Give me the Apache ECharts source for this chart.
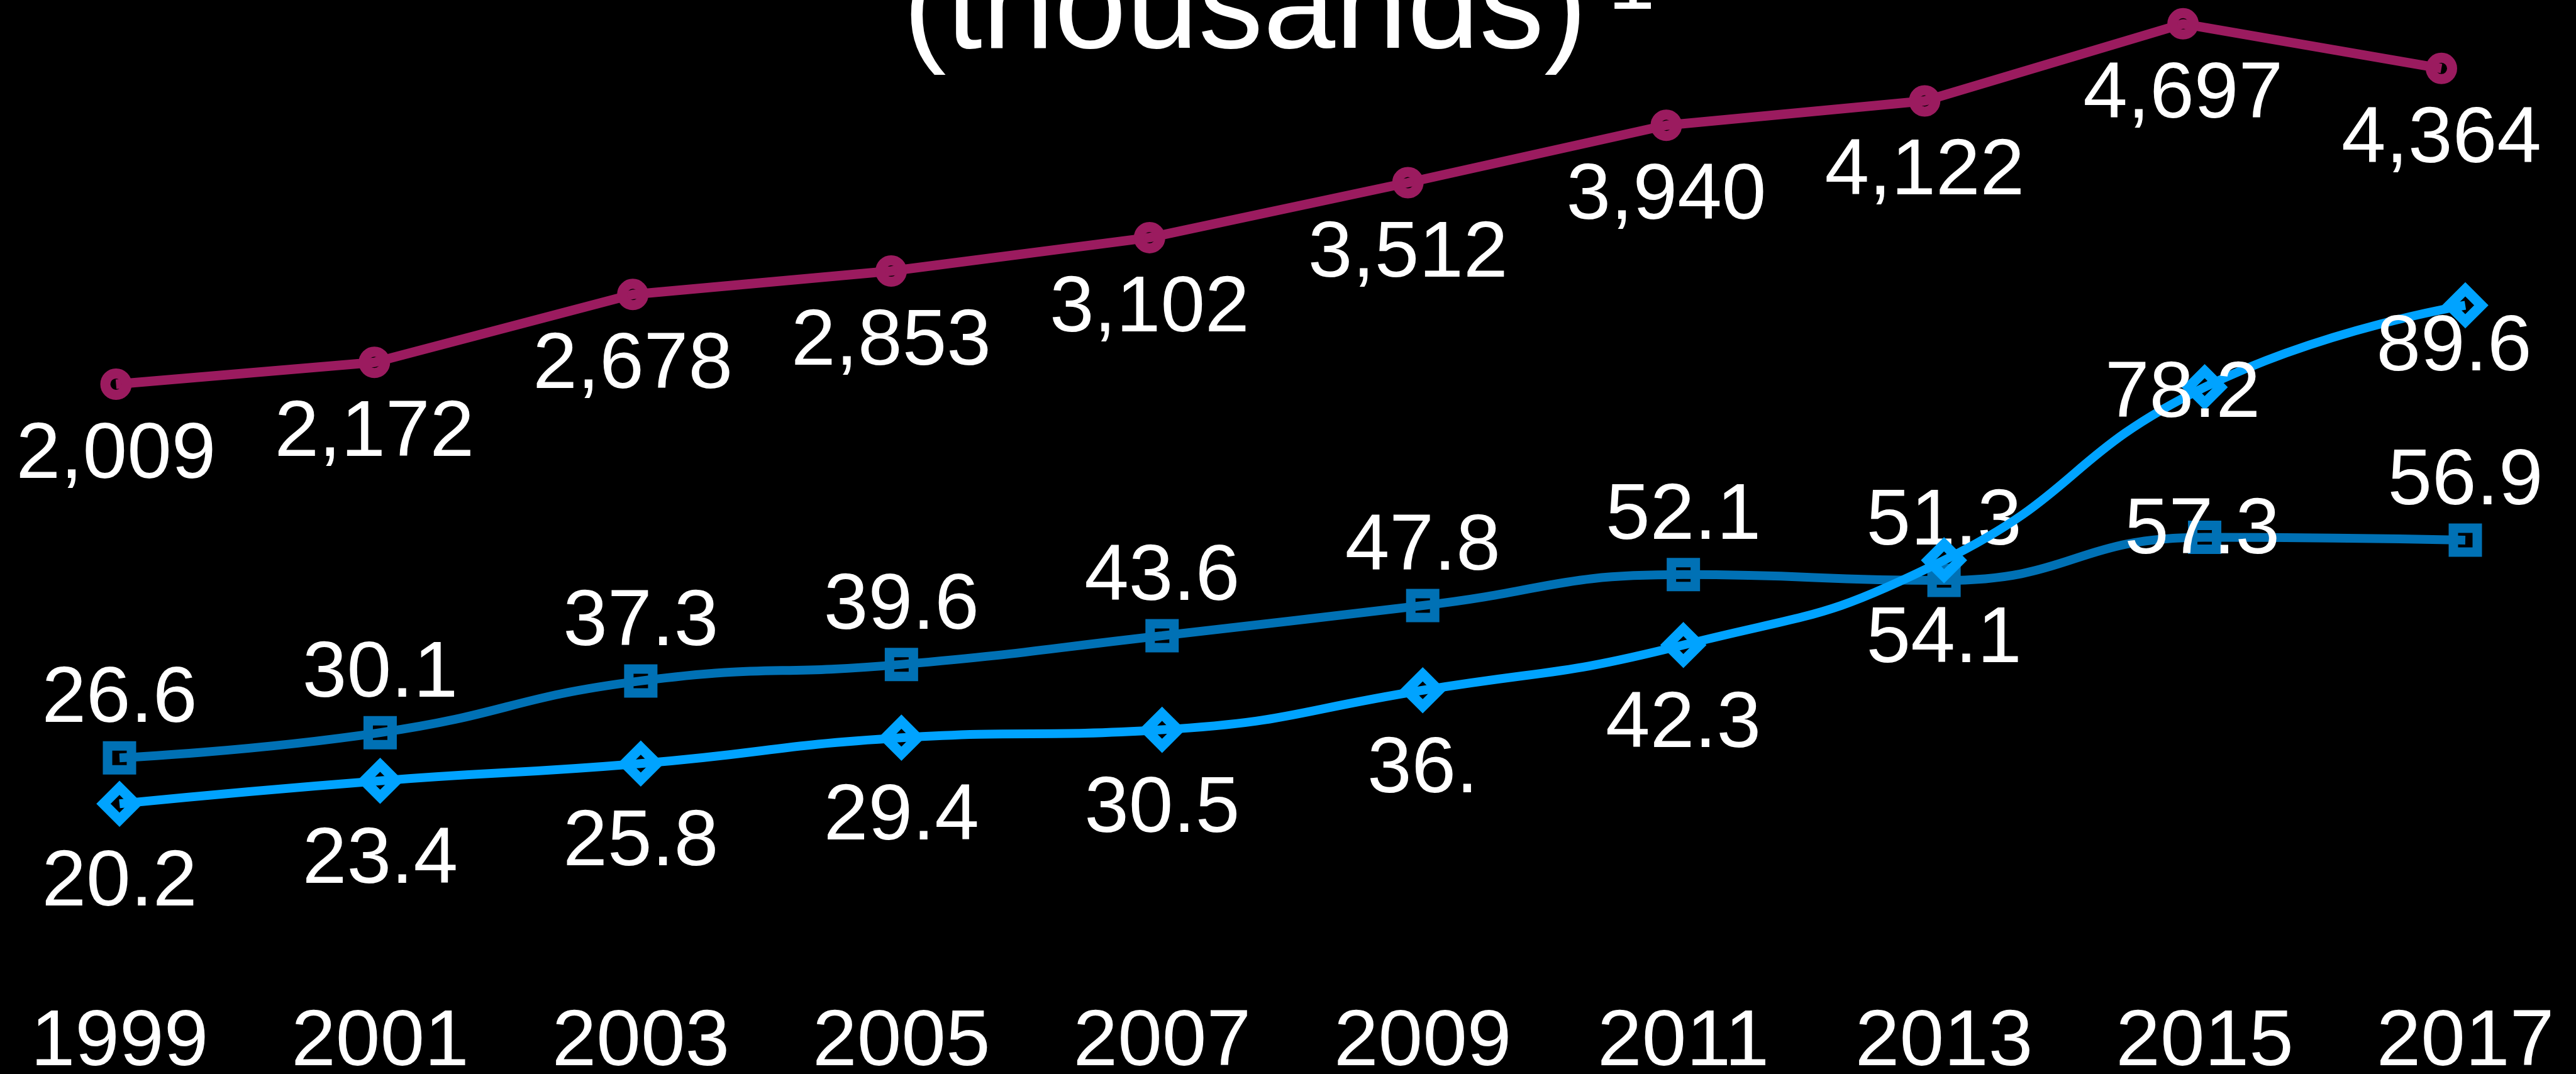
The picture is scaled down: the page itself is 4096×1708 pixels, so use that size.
<!DOCTYPE html>
<html>
<head>
<meta charset="utf-8">
<script src="https://cdn.jsdelivr.net/npm/echarts@6/dist/echarts.min.js"></script>
<style>
html,body{margin:0;padding:0;background:#000;}
#c{width:4096px;height:1708px;}
</style>
</head>
<body>
<div id="c"></div>
<script>
// ---- data ----
const years = ['1999','2001','2003','2005','2007','2009','2011','2013','2015','2017'];
const totalValues = [2009, 2172, 2678, 2853, 3102, 3512, 3940, 4122, 4697, 4364];
const squareValues = [26.6, 30.1, 37.3, 39.6, 43.6, 47.8, 52.1, 51.3, 57.3, 56.9];
const diamondValues = [20.2, 23.4, 25.8, 29.4, 30.5, 36.0, 42.3, 54.1, 78.2, 89.6];
const totalLabels = ['2,009','2,172','2,678','2,853','3,102','3,512','3,940','4,122','4,697','4,364'];
const squareLabels = ['26.6','30.1','37.3','39.6','43.6','47.8','52.1','51.3','57.3','56.9'];
const diamondLabels = ['20.2','23.4','25.8','29.4','30.5','36.','42.3','54.1','78.2','89.6'];
const titleMain = '(thousands)';
const titleSup = '1';

// ---- styles ----
const FONT = '"Liberation Sans", Arial, sans-serif';
const PURPLE = '#9B1B5F';
const DARKBLUE = '#0071B5';
const LIGHTBLUE = '#00A3FF';
const LABEL_SIZE = 127;

const totalOffset = [0, 114];
const squareOffset = [0, -92];
const diamondOffset = [0, 127];
const squareOverrides = {8: [-4, -9]};
const diamondOverrides = {8: [-35, 12], 9: [-18, 68]};

function items(values, labels, base, overrides) {
  return values.map((v, i) => ({
    value: v,
    label: { formatter: labels[i], offset: overrides[i] || base }
  }));
}

function labelStyle(){
  return {
    show: true, position: 'inside', color: '#fff', fontSize: LABEL_SIZE,
    fontFamily: FONT, lineHeight: LABEL_SIZE, align: 'center', verticalAlign: 'middle'
  };
}

const chart = echarts.init(document.getElementById('c'), null, {renderer: 'canvas'});
chart.setOption({
  backgroundColor: '#000',
  animation: false,
  title: [
    { text: titleMain, left: 1436, top: -84, padding: 0,
      textStyle: { color: '#fff', fontSize: 206, lineHeight: 206, fontWeight: 'normal', fontFamily: FONT } },
    { text: titleSup, left: 2557, top: -90, padding: 0,
      textStyle: { color: '#fff', fontSize: 134, lineHeight: 134, fontWeight: 'normal', fontFamily: FONT } }
  ],
  grid: [
    { left: 190, right: 176, top: 24, bottom: 199, containLabel: false, outerBoundsMode: 'none' },
    { left: 184.5, right: 214, top: 24, bottom: 199, containLabel: false, outerBoundsMode: 'none' }
  ],
  xAxis: [
    { type: 'category', gridIndex: 0, data: years, boundaryGap: false,
      axisLine: {show: false}, axisTick: {show: false}, splitLine: {show: false},
      axisLabel: { color: '#fff', fontSize: LABEL_SIZE, lineHeight: LABEL_SIZE, fontFamily: FONT, margin: 86, interval: 0 } },
    { type: 'category', gridIndex: 1, data: years, boundaryGap: false, show: false }
  ],
  yAxis: [
    { type: 'value', gridIndex: 0, min: 0, max: 130, show: false, splitLine: {show: false} },
    { type: 'value', gridIndex: 1, min: -2203, max: 4762, show: false, splitLine: {show: false} }
  ],
  series: [
    { name: 'Total', type: 'line', xAxisIndex: 1, yAxisIndex: 1,
      data: items(totalValues, totalLabels, totalOffset, {}),
      symbol: 'circle', symbolSize: 34, showAllSymbol: true, clip: false,
      itemStyle: { color: 'rgba(0,0,0,0)', borderColor: PURPLE, borderWidth: 16 },
      lineStyle: { color: PURPLE, width: 15 },
      label: labelStyle(), emphasis: {disabled: true}, z: 2 },
    { name: 'Square series', type: 'line', xAxisIndex: 0, yAxisIndex: 0,
      data: items(squareValues, squareLabels, squareOffset, squareOverrides),
      smooth: 0.5, symbol: 'rect', symbolSize: 38, showAllSymbol: true, clip: false,
      itemStyle: { color: 'rgba(0,0,0,0)', borderColor: DARKBLUE, borderWidth: 15 },
      lineStyle: { color: DARKBLUE, width: 14 },
      label: labelStyle(), emphasis: {disabled: true}, z: 3 },
    { name: 'Diamond series', type: 'line', xAxisIndex: 0, yAxisIndex: 0,
      data: items(diamondValues, diamondLabels, diamondOffset, diamondOverrides),
      smooth: 0.5, symbol: 'diamond', symbolSize: 51, showAllSymbol: true, clip: false,
      itemStyle: { color: 'rgba(0,0,0,0)', borderColor: LIGHTBLUE, borderWidth: 16 },
      lineStyle: { color: LIGHTBLUE, width: 14 },
      label: labelStyle(), emphasis: {disabled: true}, z: 4 }
  ]
});
</script>
</body>
</html>
